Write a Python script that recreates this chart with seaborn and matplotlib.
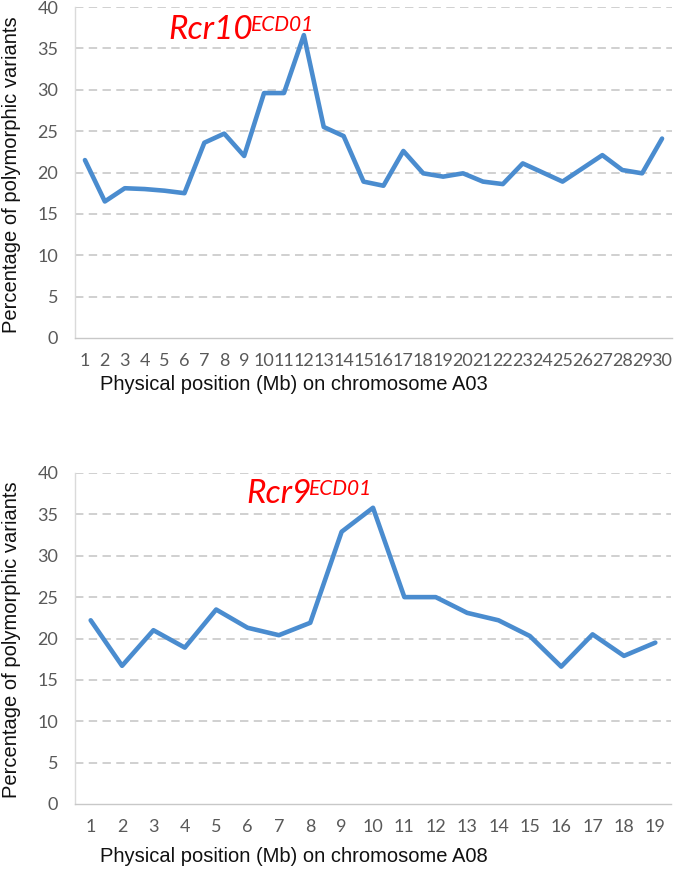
import numpy as np
import pandas as pd
import matplotlib
matplotlib.use("Agg")
import matplotlib.pyplot as plt
from matplotlib.ticker import MultipleLocator, FixedLocator
import seaborn as sns

sns.set_theme(style="white")
plt.rcParams["font.family"] = ["Liberation Sans", "DejaVu Sans"]

# Dati
pos_a03 = list(range(1, 31))
pct_a03 = [21.5, 16.5, 18.1, 18.0, 17.8, 17.5, 23.6, 24.7, 22.0, 29.6,
           29.6, 36.6, 25.5, 24.4, 18.9, 18.4, 22.6, 19.9, 19.5, 19.9,
           18.9, 18.6, 21.1, 20.0, 18.9, 20.5, 22.1, 20.3, 19.9, 24.1]

pos_a08 = list(range(1, 20))
pct_a08 = [22.2, 16.7, 21.0, 18.9, 23.5, 21.3, 20.4, 21.9, 32.9, 35.8,
           25.0, 25.0, 23.1, 22.2, 20.3, 16.6, 20.5, 17.9, 19.5]

yticks = [0, 5, 10, 15, 20, 25, 30, 35, 40]

W, H = 675, 873
fig = plt.figure(figsize=(W / 100, H / 100), dpi=100)

line_col = "#4a8ccf"
tick_col = "#595959"
axis_col = "#c8c8c8"


def style_panel(ax, n):
    ax.set_xlim(0.5, n + 0.5)
    ax.set_ylim(0, 40)
    ax.set_yticks(yticks)
    ax.yaxis.set_minor_locator(MultipleLocator(1))
    ax.set_xticks(range(1, n + 1))
    ax.xaxis.set_minor_locator(FixedLocator(np.arange(0.5, n + 1, 1.0)))
    for y in yticks[1:]:
        ax.axhline(y, color="#c4c4c4", lw=1.1, ls=(0, (5.5, 3.5)), zorder=0)
    for s in ["top", "right"]:
        ax.spines[s].set_visible(False)
    ax.spines["left"].set_color("#dadada")
    ax.spines["bottom"].set_color(axis_col)
    ax.spines["left"].set_linewidth(1.0)
    ax.spines["bottom"].set_linewidth(1.0)
    ax.tick_params(axis="y", which="major", length=0, pad=12,
                   labelsize=13, labelcolor=tick_col)
    ax.tick_params(axis="y", which="minor", length=3, direction="in",
                   color="#dadada", width=0.8)
    ax.tick_params(axis="x", which="both", length=3.5, direction="in",
                   color=axis_col, width=0.8)
    ax.tick_params(axis="x", which="major", pad=11, labelsize=13,
                   labelcolor=tick_col)
    for lab in ax.get_xticklabels() + ax.get_yticklabels():
        lab.set_fontfamily(["Lato", "DejaVu Sans"])
    ax.set_xlabel("")
    ax.set_ylabel("")
    if ax.get_legend() is not None:
        ax.get_legend().remove()


def add_gene(ax, x, y, main):
    t = ax.text(x, y, main, color="#ff0000", fontsize=24, fontstyle="italic",
                family=["Lato", "DejaVu Sans"], ha="left", va="baseline")
    ax.annotate("ECD01", xy=(1, 1), xycoords=t, xytext=(-2, 0),
                textcoords="offset points", ha="left", va="top",
                color="#ff0000", fontsize=15, fontstyle="italic",
                family=["Lato", "DejaVu Sans"])


# Pannello A03
ax1 = fig.add_axes([75 / W, 1 - 338 / H, 597 / W, 331 / H])
df1 = pd.DataFrame({"pos": pos_a03, "pct": pct_a03})
sns.lineplot(data=df1, x="pos", y="pct", ax=ax1, color=line_col, lw=3.3,
             solid_capstyle="round", solid_joinstyle="round")
style_panel(ax1, len(pos_a03))
add_gene(ax1, 5.2, 36.1, "Rcr10")

# Pannello A08
ax2 = fig.add_axes([75 / W, 1 - 804 / H, 596 / W, 331 / H])
df2 = pd.DataFrame({"pos": pos_a08, "pct": pct_a08})
sns.lineplot(data=df2, x="pos", y="pct", ax=ax2, color=line_col, lw=3.3,
             solid_capstyle="round", solid_joinstyle="round")
style_panel(ax2, len(pos_a08))
add_gene(ax2, 5.95, 36.4, "Rcr9")

# Etichette degli assi
for yc in [175, 640]:
    fig.text(12 / W, 1 - yc / H, "Percentage of polymorphic variants",
             rotation=90, ha="center", va="center", fontsize=14.5, color="#111111")
for yc, chrom in [(384, "A03"), (857, "A08")]:
    fig.text(100 / W, 1 - yc / H, "Physical position (Mb) on chromosome " + chrom,
             ha="left", va="center", fontsize=14.5, color="#111111")

fig.savefig("out.png", dpi=100)
